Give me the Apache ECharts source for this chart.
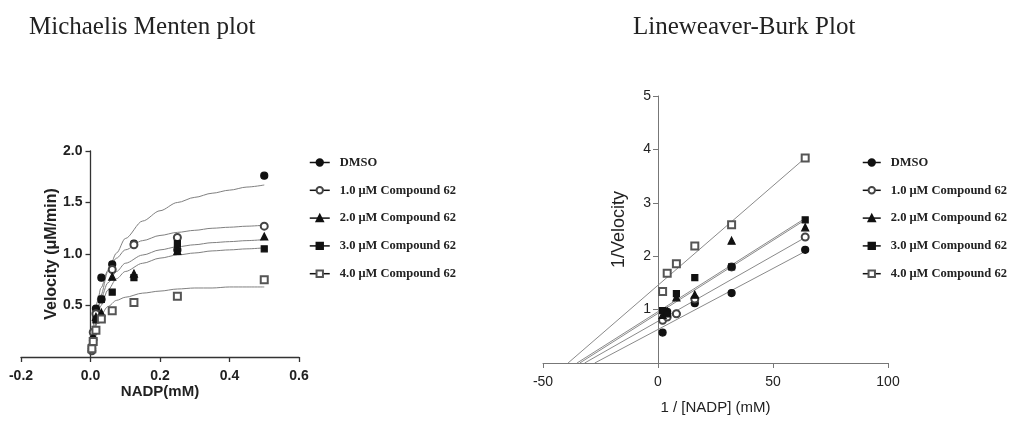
<!DOCTYPE html>
<html>
<head>
<meta charset="utf-8">
<script src="https://cdn.jsdelivr.net/npm/echarts@6/dist/echarts.min.js"></script>
<style>
html, body { margin: 0; padding: 0; background: #fff; }
#chart { width: 1015px; height: 422px; }
</style>
</head>
<body>
<div id="chart"></div>
<script>
// legend names
var seriesNames = ['DMSO', '1.0 μM Compound 62', '2.0 μM Compound 62', '3.0 μM Compound 62', '4.0 μM Compound 62'];

// Michaelis Menten: [NADP] (mM) and velocity (μM/min)
var nadp = [0.5, 0.25, 0.125, 0.0625, 0.03125, 0.015625, 0.0078125, 0.00390625];
var velDmso = [1.76, 1.04, 1.10, 0.90, 0.77, 0.47, 0.17, 0.10];
var velC1 = [1.27, 1.16, 1.09, 0.85, 0.56, 0.42, 0.24, 0.06];
var velC2 = [1.17, 1.03, 0.81, 0.78, 0.43, 0.39, 0.20, 0.12];
var velC3 = [1.05, 1.10, 0.77, 0.63, 0.56, 0.36, 0.15, 0.09];
var velC4 = [0.75, 0.59, 0.53, 0.45, 0.37, 0.26, 0.15, 0.08];

// fitted curves
var fitNadp = [0.004, 0.01, 0.02, 0.03, 0.05, 0.075, 0.1, 0.15, 0.2, 0.25, 0.3, 0.35, 0.4, 0.45, 0.5];
var fitDmso = [0.11, 0.25, 0.45, 0.60, 0.83, 1.01, 1.15, 1.32, 1.42, 1.50, 1.55, 1.59, 1.62, 1.65, 1.67];
var fitC1 = [0.16, 0.34, 0.54, 0.67, 0.84, 0.96, 1.04, 1.13, 1.18, 1.21, 1.23, 1.25, 1.26, 1.27, 1.28];
var fitC2 = [0.13, 0.27, 0.45, 0.57, 0.72, 0.83, 0.91, 0.99, 1.04, 1.07, 1.09, 1.11, 1.12, 1.13, 1.14];
var fitC3 = [0.11, 0.24, 0.39, 0.50, 0.65, 0.76, 0.83, 0.91, 0.96, 0.99, 1.01, 1.03, 1.04, 1.05, 1.06];
var fitC4 = [0.11, 0.22, 0.34, 0.41, 0.49, 0.55, 0.58, 0.62, 0.64, 0.66, 0.67, 0.67, 0.68, 0.68, 0.68];

// Lineweaver-Burk: 1/[NADP] and 1/velocity
var invNadp = [2, 4, 8, 16, 32, 64];
var invDmso = [0.57, 0.96, 0.92, 1.12, 1.31, 2.12];
var invC1 = [0.80, 0.86, 0.92, 1.20, 1.80, 2.36];
var invC2 = [0.90, 0.97, 1.23, 1.28, 2.29, 2.54];
var invC3 = [0.98, 0.92, 1.30, 1.60, 1.80, 2.68];
var invC4 = [1.34, 1.68, 1.86, 2.19, 2.59, 3.84];

// regression lines: x-intercept and value at 1/[NADP] = 64
var lbX = [[-27.5, 64], [-31.9, 64], [-34.0, 64], [-35.2, 64], [-39.1, 64]];
var lbY = [[0, 2.09], [0, 2.35], [0, 2.68], [0, 2.71], [0, 3.84]];

var velData = [velDmso, velC1, velC2, velC3, velC4];
var fitData = [fitDmso, fitC1, fitC2, fitC3, fitC4];
var invData = [invDmso, invC1, invC2, invC3, invC4];

var symbols = ['circle', 'emptyCircle', 'triangle', 'rect', 'emptyRect'];
var colors = ['#111', '#444', '#111', '#111', '#555'];
var symbolSizes = [7, 7, 7, 6, 7];

function zip(xs, ys) {
	var out = [];
	for (var i = 0; i < xs.length; i++) {
		out.push([xs[i], ys[i]]);
	}
	return out;
}

var legendText = { fontFamily: 'Liberation Serif', fontWeight: 'bold', fontSize: 12.5, color: '#222', padding: [0, 0, 0, 5] };
var titleText = { fontFamily: 'Liberation Serif', fontWeight: 'normal', fontSize: 25, color: '#222' };

var series = [];
for (var i = 0; i < seriesNames.length; i++) {
	// fitted curve, left
	series.push({
		name: seriesNames[i] + ' fit',
		type: 'line',
		xAxisIndex: 0,
		yAxisIndex: 0,
		data: zip(fitNadp, fitData[i]),
		smooth: 0.3,
		smoothMonotone: 'x',
		showSymbol: false,
		silent: true,
		lineStyle: { color: '#808080', width: 1 },
		z: 2
	});
	// regression line, right
	series.push({
		name: seriesNames[i] + ' line',
		type: 'line',
		xAxisIndex: 1,
		yAxisIndex: 1,
		data: zip(lbX[i], lbY[i]),
		showSymbol: false,
		silent: true,
		lineStyle: { color: '#8a8a8a', width: 1 },
		z: 2
	});
}
for (var j = 0; j < seriesNames.length; j++) {
	var style = { color: colors[j], borderColor: colors[j], borderWidth: 1.2 };
	series.push({
		name: seriesNames[j],
		type: 'line',
		xAxisIndex: 0,
		yAxisIndex: 0,
		data: zip(nadp, velData[j]),
		symbol: symbols[j],
		symbolSize: symbolSizes[j],
		showSymbol: true,
		lineStyle: { width: 0 },
		itemStyle: style,
		z: 5
	});
	series.push({
		name: seriesNames[j],
		type: 'line',
		xAxisIndex: 1,
		yAxisIndex: 1,
		data: zip(invNadp, invData[j]),
		symbol: symbols[j],
		symbolSize: symbolSizes[j],
		showSymbol: true,
		lineStyle: { width: 0 },
		itemStyle: style,
		z: 5
	});
}

var myChart = echarts.init(document.getElementById('chart'));
var option = {
	animation: false,
	backgroundColor: '#fff',
	title: [{
		text: 'Michaelis Menten plot',
		left: 24,
		top: 10,
		textStyle: titleText
	}, {
		text: 'Lineweaver-Burk Plot',
		left: 628,
		top: 10,
		textStyle: titleText
	}],
	legend: [{
		data: seriesNames,
		orient: 'vertical',
		left: 304,
		top: 151,
		itemWidth: 20,
		itemHeight: 8,
		itemGap: 14.8,
		selectedMode: false,
		textStyle: legendText,
		lineStyle: { width: 1.5, color: '#111', opacity: 1 }
	}, {
		data: seriesNames,
		orient: 'vertical',
		left: 857,
		top: 151,
		itemWidth: 18,
		itemHeight: 8,
		itemGap: 14.8,
		selectedMode: false,
		textStyle: legendText,
		lineStyle: { width: 1.5, color: '#111', opacity: 1 }
	}],
	grid: [
		{ left: 21, top: 151, width: 278, height: 206, outerBoundsMode: 'none' },
		{ left: 543, top: 96, width: 345, height: 267, outerBoundsMode: 'none' }
	],
	xAxis: [{
		type: 'value',
		gridIndex: 0,
		min: -0.2,
		max: 0.6,
		interval: 0.2,
		name: 'NADP(mM)',
		nameLocation: 'middle',
		nameGap: 19,
		nameTextStyle: { fontFamily: 'Liberation Sans', fontWeight: 'bold', fontSize: 15, color: '#222' },
		axisLine: { show: true, onZero: false, lineStyle: { color: '#333', width: 1.3 } },
		axisTick: { show: true, length: 5, lineStyle: { color: '#333', width: 1.3 } },
		splitLine: { show: false },
		axisLabel: {
			fontFamily: 'Liberation Sans', fontWeight: 'bold', fontSize: 14, color: '#222', margin: 12,
			formatter: function (v) { return v.toFixed(1); }
		}
	}, {
		type: 'value',
		gridIndex: 1,
		min: -50,
		max: 100,
		interval: 50,
		name: '1 / [NADP] (mM)',
		nameLocation: 'middle',
		nameGap: 37,
		nameTextStyle: { fontFamily: 'Liberation Sans', fontSize: 15, color: '#222' },
		axisLine: { show: true, onZero: false, lineStyle: { color: '#777', width: 1 } },
		axisTick: { show: true, length: 5, lineStyle: { color: '#777' } },
		splitLine: { show: false },
		axisLabel: { fontFamily: 'Liberation Sans', fontSize: 14, color: '#222', margin: 12 }
	}],
	yAxis: [{
		type: 'value',
		gridIndex: 0,
		min: 0,
		max: 2,
		interval: 0.5,
		// axis sits on x = 0, moved in from the grid edge
		offset: -69.5,
		name: 'Velocity (μM/min)',
		nameLocation: 'middle',
		nameGap: 31,
		nameTextStyle: { fontFamily: 'Liberation Sans', fontWeight: 'bold', fontSize: 16, color: '#222' },
		axisLine: { show: true, onZero: false, lineStyle: { color: '#333', width: 1.3 } },
		axisTick: { show: true, length: 5, lineStyle: { color: '#333', width: 1.3 } },
		splitLine: { show: false },
		axisLabel: {
			fontFamily: 'Liberation Sans', fontWeight: 'bold', fontSize: 14, color: '#222', margin: 8,
			showMinLabel: false,
			formatter: function (v) { return v.toFixed(1); }
		}
	}, {
		type: 'value',
		gridIndex: 1,
		min: 0,
		max: 5,
		interval: 1,
		offset: -115,
		name: '1/Velocity',
		nameLocation: 'middle',
		nameGap: 30,
		nameTextStyle: { fontFamily: 'Liberation Sans', fontSize: 18, color: '#222' },
		axisLine: { show: true, onZero: false, lineStyle: { color: '#777', width: 1 } },
		axisTick: { show: true, length: 5, lineStyle: { color: '#777' } },
		splitLine: { show: false },
		axisLabel: { fontFamily: 'Liberation Sans', fontSize: 14, color: '#222', margin: 7, showMinLabel: false }
	}],
	series: series
};
myChart.setOption(option);
</script>
</body>
</html>
